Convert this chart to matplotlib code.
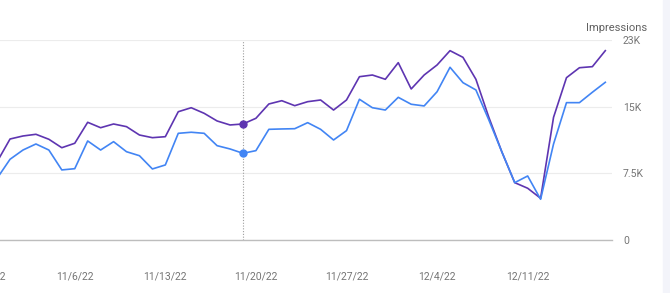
import matplotlib
matplotlib.use("Agg")
import matplotlib.pyplot as plt
import matplotlib.dates as mdates
from matplotlib.patches import Rectangle
import pandas as pd

plt.rcParams["font.family"] = ["Roboto", "DejaVu Sans"]

# daily values 10/31/22 - 12/17/22
dates = pd.date_range("2022-10-31", "2022-12-17", freq="D")
impressions = [
    8800, 11360, 11700, 11890, 11330, 10380, 10880, 13240, 12630, 13050,
    12750, 11810, 11510, 11620, 14430, 14880, 14250, 13390, 12940, 13050,
    13690, 15300, 15670, 15110, 15560, 15750, 14620, 15750, 18370, 18560,
    18080, 19950, 16990, 18560, 19690, 21300, 20550, 18080, 13800, 9930,
    6450, 5820, 4690, 13800, 18260, 19380, 19500, 21300,
]
clicks = [
    6940, 9080, 10120, 10800, 10120, 7880, 8020, 11140, 10120, 11060,
    9930, 9480, 7990, 8440, 12000, 12120, 12000, 10610, 10240, 9750,
    10050, 12450, 12490, 12520, 13200, 12450, 11250, 12300, 15830, 14880,
    14620, 16050, 15270, 15080, 16680, 19430, 17700, 16880, 13500, 9930,
    6450, 7200, 4580, 10800, 15450, 15450, 16620, 17740,
]
tick_dates = ["2022-10-30", "2022-11-06", "2022-11-13", "2022-11-20",
              "2022-11-27", "2022-12-04", "2022-12-11"]
y_ticks = [0, 7500, 15000, 22500]
y_labels = ["0", "7.5K", "15K", "23K"]
hover_date = "2022-11-19"

fig = plt.figure(figsize=(6.7, 2.93), dpi=100)
# page background beyond the card's right edge
fig.patches.append(Rectangle((0.99, 0), 0.01, 1, transform=fig.transFigure,
                             color="#f3f4fa", zorder=0))

ax = fig.add_axes([-0.0333, 0.181, 0.9464, 0.6825])
ax.patch.set_alpha(0)

ax.plot(dates, impressions, color="#5e35b1", lw=1.2, zorder=3)
ax.plot(dates, clicks, color="#4285f4", lw=1.2, zorder=3)

# hover marker
h = dates.get_loc(pd.Timestamp(hover_date))
ax.axvline(dates[h], color="#9e9e9e", lw=0.8, ls=(0, (1, 1.5)), zorder=2)
ax.plot(dates[h], impressions[h], "o", color="#5e35b1", ms=5, zorder=4)
ax.plot(dates[h], clicks[h], "o", color="#4285f4", ms=5, zorder=4)

ax.set_xlim(pd.Timestamp("2022-10-29 12:00"), pd.Timestamp("2022-12-17 12:00"))
ax.set_ylim(0, 22500)

ax.set_yticks(y_ticks)
ax.set_yticklabels(y_labels)
ax.yaxis.tick_right()
ax.tick_params(axis="y", length=0, pad=8, labelsize=7.5, labelcolor="#757575")

ax.set_xticks(pd.to_datetime(tick_dates))
ax.xaxis.set_major_formatter(mdates.DateFormatter("%-m/%-d/%y"))
ax.tick_params(axis="x", length=0, pad=23, labelsize=7.5, labelcolor="#757575")

ax.grid(axis="y", color="#ececec", lw=0.8)
ax.grid(axis="x", visible=False)
for side in ["top", "left", "right"]:
    ax.spines[side].set_visible(False)
ax.spines["bottom"].set_color("#bdbdbd")
ax.spines["bottom"].set_linewidth(1.0)

fig.text(0.875, 0.905, "Impressions", fontsize=8, color="#616161",
         ha="left", va="center")

fig.savefig("out.png", dpi=100)
